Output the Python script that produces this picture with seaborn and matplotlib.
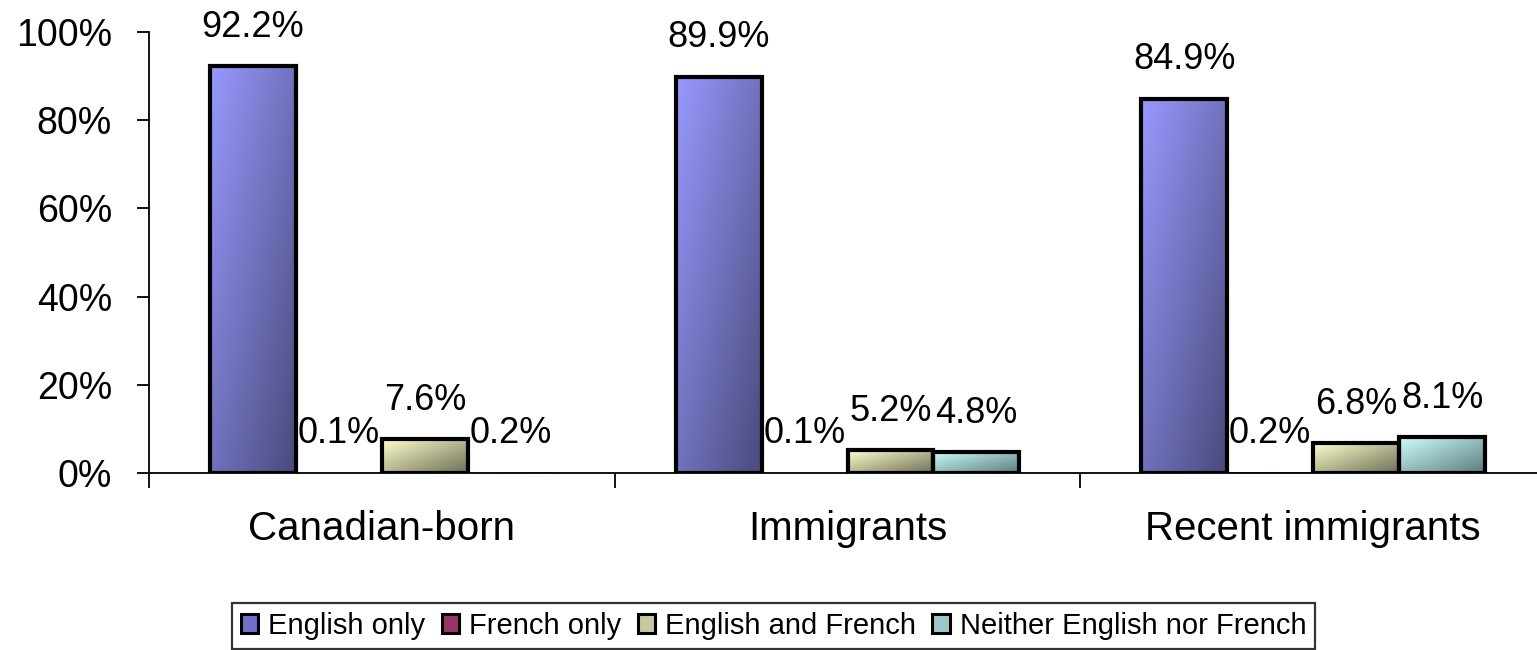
import numpy as np
import pandas as pd
import matplotlib
matplotlib.use("Agg")
import matplotlib.pyplot as plt
from matplotlib.patches import Patch
from matplotlib.colors import to_rgb
import seaborn as sns

# data (percent)
groups = ["Canadian-born", "Immigrants", "Recent immigrants"]
series = ["English only", "French only", "English and French", "Neither English nor French"]
english_only = [92.2, 89.9, 84.9]
french_only = [0.1, 0.1, 0.2]
english_french = [7.6, 5.2, 6.8]
neither = [0.2, 4.8, 8.1]

# light -> dark gradient ends for each series
light = ["#9999FF", "#B24477", "#FFFFCC", "#CCFFFF"]
dark = ["#4A4A7C", "#7A2248", "#6E6E58", "#5E7C7C"]
mid = ["#7070C8", "#993366", "#C8C8A0", "#9CC8C8"]

rows = []
for s, vals in zip(series, [english_only, french_only, english_french, neither]):
    for g, v in zip(groups, vals):
        rows.append({"group": g, "series": s, "value": v})
df = pd.DataFrame(rows)

sns.set_style("white")
plt.rcParams["font.family"] = ["Liberation Sans", "DejaVu Sans"]
plt.rcParams["text.color"] = "black"
plt.rcParams["xtick.color"] = "black"
plt.rcParams["ytick.color"] = "black"

fig = plt.figure(figsize=(15.37, 6.5), dpi=100)
ax = fig.add_axes([149 / 1537, 177 / 650, 1397 / 1537, 441 / 650])

bar_w = 0.738
sns.barplot(data=df, x="group", y="value", hue="series", order=groups,
            hue_order=series, palette=mid, width=bar_w, edgecolor="black",
            linewidth=3, legend=False, ax=ax)

bw = bar_w / len(series)
for p in list(ax.patches):
    x0, y0 = p.get_x(), p.get_y()
    w, h = p.get_width(), p.get_height()
    xc = x0 + w / 2
    k = int(round((xc - round(xc)) / bw + 1.5))
    # diagonal gradient: top-left light, bottom-right dark
    u = np.linspace(0, 1, 60)[None, :]
    v = np.linspace(0, 1, 200)[:, None]
    t = (u + v) / 2
    c0, c1 = np.array(to_rgb(light[k])), np.array(to_rgb(dark[k]))
    img = c0[None, None, :] * (1 - t[..., None]) + c1[None, None, :] * t[..., None]
    im = ax.imshow(img, extent=[x0, x0 + w, y0, y0 + h], origin="upper",
                   aspect="auto", zorder=0.5)
    im.set_clip_path(p)
    p.set_facecolor("none")
    p.set_linewidth(3)
    if h < 1:
        p.set_edgecolor("none")
    ax.annotate(f"{h:.1f}%", (xc, h), xytext=(0, 21), textcoords="offset points",
                ha="center", va="baseline", fontsize=26, color="black")

ax.set_xlim(-0.5, 2.5)
ax.set_ylim(0, 100)
ax.set_yticks(range(0, 101, 20))
ax.set_yticklabels([f"{v}%" for v in range(0, 101, 20)])
ax.set_xticks([-0.5, 0.5, 1.5, 2.5])
ax.set_xticklabels([])
ax.set_xticks([0, 1, 2], minor=True)
ax.set_xticklabels(groups, minor=True)
ax.tick_params(axis="x", which="major", direction="out", length=11, width=1.3,
               bottom=True, color="black")
ax.tick_params(axis="x", which="minor", length=0, pad=27, labelsize=29,
               labelcolor="black")
ax.tick_params(axis="y", direction="out", length=8.6, width=1.3, pad=18,
               labelsize=27, left=True, color="black", labelcolor="black")
ax.set_xlabel("")
ax.set_ylabel("")
for side in ["top", "right"]:
    ax.spines[side].set_visible(False)
for side in ["left", "bottom"]:
    ax.spines[side].set_color("black")
    ax.spines[side].set_linewidth(1.3)

handles = [Patch(facecolor=c, edgecolor="black", linewidth=2.2) for c in mid]
leg = fig.legend(handles, series, loc="upper left",
                 bbox_to_anchor=(232 / 1537, 1 - 603 / 650), ncol=4,
                 fontsize=21, frameon=True, fancybox=False, handlelength=0.6,
                 handleheight=0.6, handletextpad=0.35, columnspacing=0.55,
                 borderpad=0.3, borderaxespad=0)
leg.get_frame().set_edgecolor("black")
leg.get_frame().set_linewidth(1.6)
for txt in leg.get_texts():
    txt.set_color("black")

fig.savefig("out.png", dpi=100)
